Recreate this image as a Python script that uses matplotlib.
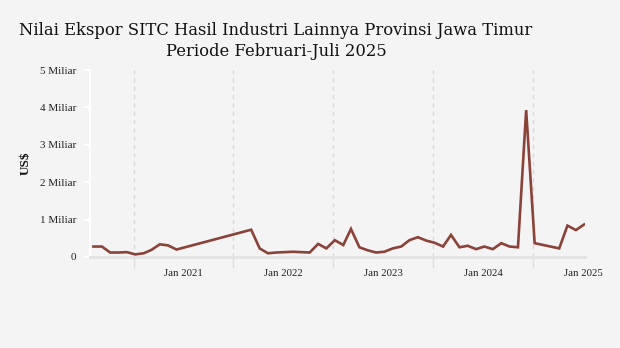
import matplotlib
matplotlib.use("Agg")
import matplotlib.pyplot as plt
import matplotlib.dates as mdates
import matplotlib.transforms as mtransforms
import pandas as pd
from matplotlib.ticker import FixedLocator

# ---- data (US$ billions / Miliar) ----
months = ["2020-08", "2020-09", "2020-10", "2020-11", "2020-12",
          "2021-01", "2021-02", "2021-03", "2021-04", "2021-05", "2021-06",
          "2022-03", "2022-04", "2022-05", "2022-06", "2022-07", "2022-08",
          "2022-09", "2022-10", "2022-11", "2022-12",
          "2023-01", "2023-02", "2023-03", "2023-04", "2023-05", "2023-06",
          "2023-07", "2023-08", "2023-09", "2023-10", "2023-11", "2023-12",
          "2024-01", "2024-02", "2024-03", "2024-04", "2024-05", "2024-06",
          "2024-07", "2024-08", "2024-09", "2024-10", "2024-11", "2024-12",
          "2025-01", "2025-04", "2025-05", "2025-06", "2025-07"]
values = [0.28, 0.28, 0.12, 0.12, 0.13,
          0.07, 0.10, 0.19, 0.34, 0.31, 0.20,
          0.73, 0.23, 0.10, 0.12, 0.13, 0.14,
          0.13, 0.12, 0.35, 0.23,
          0.45, 0.32, 0.75, 0.26, 0.18, 0.12,
          0.14, 0.23, 0.28, 0.45, 0.53, 0.44,
          0.38, 0.28, 0.59, 0.26, 0.30, 0.21,
          0.28, 0.21, 0.37, 0.28, 0.26, 3.93,
          0.37, 0.23, 0.84, 0.72, 0.87]
tick_years = [2021, 2022, 2023, 2024, 2025]
tick_labels = ["Jan 2021", "Jan 2022", "Jan 2023", "Jan 2024", "Jan 2025"]
ytick_vals = [0, 1, 2, 3, 4, 5]
ytick_labels = ["0", "1 Miliar", "2 Miliar", "3 Miliar", "4 Miliar", "5 Miliar"]

dates = pd.to_datetime(months) + pd.Timedelta(days=6)
vals = [v * 1e9 for v in values]

bg = "#f4f4f4"
fig = plt.figure(figsize=(6.2, 3.48), dpi=100, facecolor=bg)
ax = fig.add_axes([0.145, 0.2615, 0.798, 0.537], facecolor=bg)

ax.plot(dates, vals, color="#8a4338", lw=1.9, solid_joinstyle="miter")

ax.set_xlim(pd.Timestamp("2020-07-25"), pd.Timestamp("2025-07-09"))
ax.set_ylim(0, 5e9)

xt = [mdates.date2num(pd.Timestamp(f"{y}-01-01")) for y in tick_years]
ax.xaxis.set_major_locator(FixedLocator(xt))
ax.set_xticklabels(tick_labels, fontfamily="Liberation Serif", fontsize=7.8, color="#222222")
ax.tick_params(axis="x", length=8, color="#dddddd", width=1, pad=1)
offset = mtransforms.ScaledTranslation(50 / 100, 0, fig.dpi_scale_trans)
for lab in ax.get_xticklabels():
    lab.set_transform(lab.get_transform() + offset)
ax.grid(axis="x", color="#d8d8d8", linestyle=(0, (3, 3)), lw=1)

ax.set_yticks([v * 1e9 for v in ytick_vals])
ax.set_yticklabels(ytick_labels, fontfamily="Liberation Serif", fontsize=8, color="#222222")
ax.tick_params(axis="y", length=4, color="white", width=1.5, pad=6)

for s in ["top", "right"]:
    ax.spines[s].set_visible(False)
ax.spines["left"].set_color("white")
ax.spines["left"].set_linewidth(1.5)
ax.spines["bottom"].set_color("#e2e2e2")
ax.spines["bottom"].set_linewidth(2)

ax.set_ylabel("US$", fontfamily="Liberation Serif", fontsize=9.5, fontweight="bold", labelpad=6, color="#111111")

fig.text(0.445, 0.911, "Nilai Ekspor SITC Hasil Industri Lainnya Provinsi Jawa Timur",
         ha="center", va="center", fontfamily="DejaVu Serif", fontsize=11.8, color="#111111")
fig.text(0.445, 0.851, "Periode Februari-Juli 2025",
         ha="center", va="center", fontfamily="DejaVu Serif", fontsize=11.8, color="#111111")

fig.savefig("out.png", dpi=100, facecolor=bg)
